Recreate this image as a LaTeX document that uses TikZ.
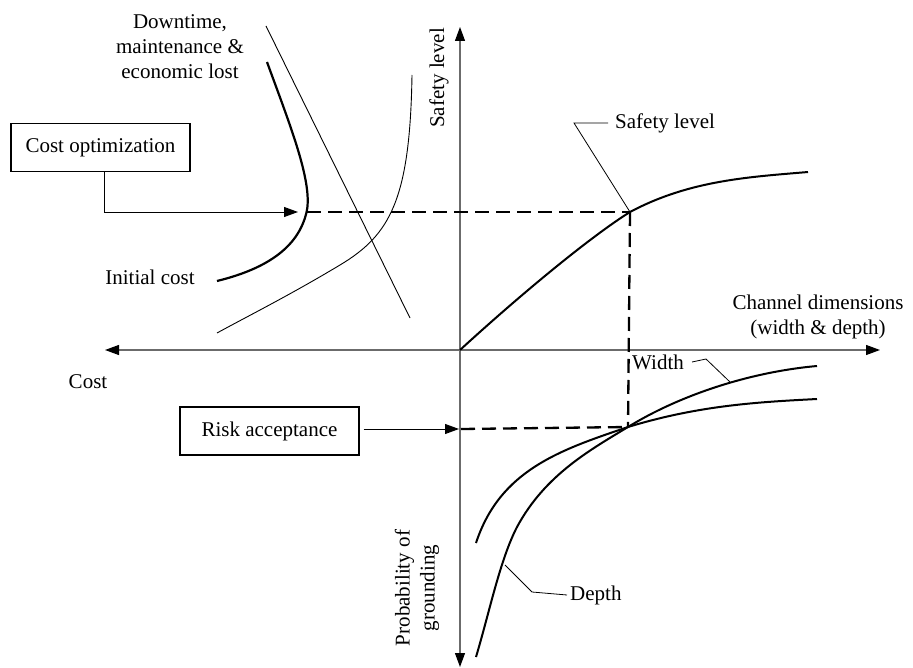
\documentclass[tikz,border=0pt]{standalone}
\usepackage{fontspec}
\setmainfont{Liberation Serif}
\usetikzlibrary{arrows.meta}
\definecolor{axisgray}{gray}{0.42}
\begin{document}
\begin{tikzpicture}[x=1pt,y=-1pt,
  every node/.style={font=\fontsize{21}{25}\selectfont},
  lbl/.style={inner sep=0pt},
  boxnode/.style={draw,line width=1.3pt,minimum width=179pt,minimum height=48pt,inner sep=0pt},
  axis/.style={draw=axisgray,line width=1.2pt,{Triangle[length=14pt,width=10pt,fill=black,color=black]}-{Triangle[length=14pt,width=10pt,fill=black,color=black]}},
  conn/.style={line width=0.9pt,-{Triangle[length=14pt,width=10pt]}},
  leader/.style={line width=0.8pt},
  thickcurve/.style={line width=2.2pt},
  thincurve/.style={line width=0.9pt},
  guide/.style={line width=2.3pt,dash pattern=on 14pt off 7pt}]
\useasboundingbox (0,0) rectangle (913,668);

% key points
\coordinate (O) at (460,350);
\coordinate (xl) at (105,350);
\coordinate (xr) at (880,350);
\coordinate (yt) at (460,27);
\coordinate (yb) at (460,667);
\coordinate (safe) at (630,212);
\coordinate (opt) at (307,212);
\coordinate (optin) at (298,212);
\coordinate (cross) at (628,427);
\coordinate (riskin) at (459,429);

% axes
\draw[axis] (xl) -- (xr);
\draw[axis] (yb) -- (yt);

% cost curves
\draw[thickcurve] (267,62) .. controls (290,125) and (312,180) .. (307,210)
  .. controls (300,245) and (270,268) .. (217,281);
\draw[thincurve] (266,26) -- (410,318);
\draw[thincurve] (412,75) .. controls (410,200) and (390,235) .. (340,265)
  .. controls (290,295) and (250,315) .. (217,333);

% safety level curve
\draw[thickcurve,line width=2pt] (O) .. controls (520,295) and (590,237) .. (safe)
  .. controls (690,180) and (750,177) .. (808,172);

% grounding probability curves
\draw[thickcurve,line width=2pt] (476,543) .. controls (500,470) and (560,450) .. (cross)
  .. controls (700,405) and (760,402) .. (817,399);
\draw[thickcurve,line width=2pt] (476,657) .. controls (490,610) and (500,560) .. (517,527)
  .. controls (545,475) and (590,450) .. (cross)
  .. controls (680,395) and (750,372) .. (817,366);

% dashed guides
\draw[guide] (opt) -- (safe);
\draw[guide] (safe) -- (cross);
\draw[guide] (461,429) -- (cross);

% boxes
\node[boxnode] (costopt) at (100.5,147.5) {Cost optimization};
\node[boxnode] (risk) at (269.5,431) {Risk acceptance};
\draw[conn] ([xshift=3.5pt]costopt.south) |- (optin);
\draw[conn] ([xshift=4pt]risk.east |- riskin) -- (riskin);

% labels
\node[lbl,align=center] (downtime) at (180,47) {Downtime,\\maintenance \&\\economic lost};
\node[lbl] (initial) at (150,277) {Initial cost};
\node[lbl] (cost) at (88,382) {Cost};
\node[lbl,rotate=90] (safetyaxis) at (439,78) {Safety level};
\node[lbl,rotate=90,align=center] (prob) at (417,588) {Probability of\\grounding};
\node[lbl,align=center] (channel) at (818,317) {Channel dimensions\\(width \& depth)};
\node[lbl,anchor=west] (safetylbl) at (615,123) {Safety level};
\node[lbl,anchor=west] (widthlbl) at (632,362) {Width};
\node[lbl,anchor=west] (depthlbl) at (570,595) {Depth};

% leaders
\draw[leader] (safe) -- (574,123) -- ([xshift=-7pt]safetylbl.west);
\draw[leader] (730,382) -- (706,359) -- ([xshift=8pt]widthlbl.east);
\draw[leader] (505,565) -- (532,592) -- ([xshift=-3pt]depthlbl.west);
\end{tikzpicture}
\end{document}
